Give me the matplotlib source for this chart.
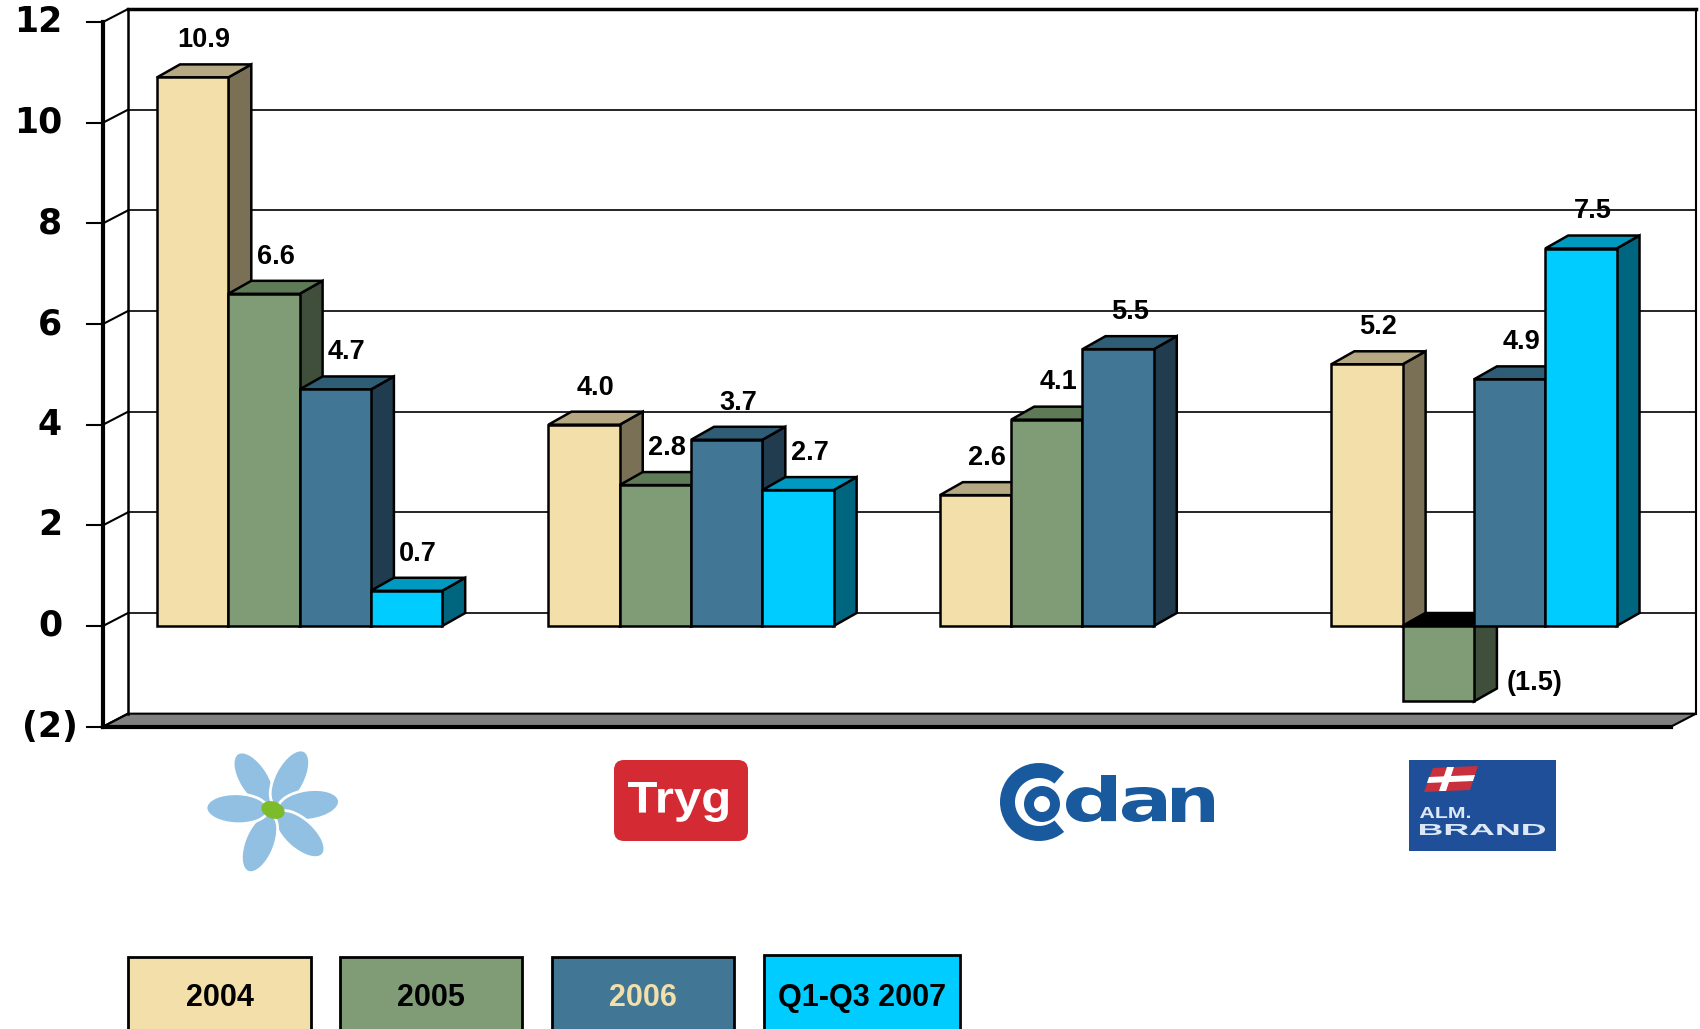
import numpy as np
import matplotlib
matplotlib.use('Agg')
import matplotlib.pyplot as plt
from matplotlib.patches import Polygon, Rectangle, Ellipse, Wedge, FancyBboxPatch, PathPatch
from matplotlib.textpath import TextPath
from matplotlib.font_manager import FontProperties
from matplotlib.transforms import Affine2D

# data
companies = ['If', 'Tryg', 'Codan', 'Alm. Brand']
series = ['2004', '2005', '2006', 'Q1-Q3 2007']
v2004 = [10.9, 4.0, 2.6, 5.2]
v2005 = [6.6, 2.8, 4.1, -1.5]
v2006 = [4.7, 3.7, 5.5, 4.9]
v2007 = [0.7, 2.7, np.nan, 7.5]
yticks = [-2, 0, 2, 4, 6, 8, 10, 12]

front_cols = ['#F2DFAA', '#7F9C76', '#417694', '#00CCFF']
top_cols = ['#B5A882', '#5F7A56', '#2F5D75', '#0099C0']
side_cols = ['#7A7055', '#404F3B', '#223C4F', '#006680']
legend_txt_cols = ['black', 'black', '#F2DFAA', 'black']

# layout (pixels of the 1700x1029 canvas)
W, H = 1700, 1029
bar_px, unit_px = 71.3, 50.33
x0_px, y0_px = 157, 626
group_step = 5.49
dx, dy = 23 / bar_px, 13 / unit_px      # bar depth
wdx, wdy = 25 / bar_px, 13 / unit_px    # wall depth
axis_x = (103 - x0_px) / bar_px
right_back = (1696 - x0_px) / bar_px
ymin, ymax = yticks[0], yticks[-1]

fig = plt.figure(figsize=(W / 100, H / 100), dpi=100)
ax = fig.add_axes([0, 0, 1, 1])
ax.set_xlim(-x0_px / bar_px, (W - x0_px) / bar_px)
ax.set_ylim((y0_px - H) / unit_px, y0_px / unit_px)
ax.axis('off')

# walls, floor and grid
floor = Polygon([(axis_x, ymin), (axis_x + wdx, ymin + wdy), (right_back, ymin + wdy),
                 (right_back - wdx, ymin)], closed=True, fc='#808080', ec='black', lw=1.5, zorder=1)
ax.add_patch(floor)
ax.plot([axis_x - wdx * 0.02, right_back - wdx], [ymin, ymin], color='black', lw=3, zorder=1.5)
ax.plot([axis_x, axis_x], [ymin, ymax], color='black', lw=3, zorder=1.5)
ax.plot([axis_x + wdx] * 2, [ymin + wdy, ymax + wdy], color='black', lw=1.8, zorder=1.5)
ax.plot([axis_x + wdx, right_back], [ymax + wdy] * 2, color='black', lw=2.5, zorder=1.5)
ax.plot([right_back] * 2, [ymin + wdy, ymax + wdy], color='black', lw=1.5, zorder=1.5)
for t in yticks:
    ax.plot([axis_x - 0.225, axis_x], [t, t], color='black', lw=1.5, zorder=1.5)
    ax.plot([axis_x, axis_x + wdx], [t, t + wdy], color='black', lw=1.5, zorder=1.5)
    if ymin < t < ymax:
        ax.plot([axis_x + wdx, right_back], [t + wdy] * 2, color='black', lw=1.2, zorder=1)
    lab = f'({abs(t)})' if t < 0 else str(t)
    lx = (62 - x0_px) / bar_px + (0.22 if t < 0 else 0)
    ax.text(lx, t, lab, ha='right', va='center', fontsize=25, fontweight='bold',
            family='DejaVu Sans', zorder=5)

# 3D bars
vals = [v2004, v2005, v2006, v2007]
z = 3
for g in range(len(companies)):
    for k in range(len(series)):
        v = vals[k][g]
        if np.isnan(v):
            continue
        x = g * group_step + k
        if v >= 0:
            side = [(x + 1, 0), (x + 1 + dx, dy), (x + 1 + dx, v + dy), (x + 1, v)]
            top = [(x, v), (x + dx, v + dy), (x + 1 + dx, v + dy), (x + 1, v)]
            tcol = top_cols[k]
        else:
            side = [(x + 1, v), (x + 1 + dx, v + dy), (x + 1 + dx, dy), (x + 1, 0)]
            top = [(x, 0), (x + dx, dy), (x + 1 + dx, dy), (x + 1, 0)]
            tcol = 'black'
        ax.add_patch(Polygon(side, closed=True, fc=side_cols[k], ec='black', lw=1.8, zorder=z))
        ax.add_patch(Polygon(top, closed=True, fc=tcol, ec='black', lw=1.8, zorder=z))
        ax.add_patch(Rectangle((x, min(0, v)), 1, abs(v), fc=front_cols[k], ec='black', lw=1.8, zorder=z))
        z += 0.01
        if v >= 0:
            ax.text(x + 0.5 + dx / 2, v + dy + 0.48, f'{v:.1f}', ha='center', va='center',
                    fontsize=19.5, fontweight='bold', family='Liberation Sans', zorder=6)
        else:
            ax.text(x + 1 + dx + 0.13, v + 0.36, f'({abs(v):.1f})', ha='left', va='center',
                    fontsize=19.5, fontweight='bold', family='Liberation Sans', zorder=6)

# overlay in pixel coordinates for logos and legend
ov = fig.add_axes([0, 0, 1, 1], zorder=3)
ov.set_xlim(0, W)
ov.set_ylim(H, 0)
ov.axis('off')
ov.patch.set_alpha(0)


def fit_text(s, x0, y0, x1, y1, color, weight='bold', family='DejaVu Sans'):
    tp = TextPath((0, 0), s, size=50, prop=FontProperties(family=family, weight=weight))
    bb = tp.get_extents()
    tr = Affine2D().translate(-bb.x0, -bb.y0).scale((x1 - x0) / bb.width, -(y1 - y0) / bb.height).translate(x0, y1)
    ov.add_patch(PathPatch(tp, transform=tr + ov.transData, fc=color, ec='none', lw=0))


# If (flower)
cx, cy = 273, 810
for ang in [122, 62, 8, -42, -112, 178]:
    a = np.deg2rad(ang)
    ov.add_patch(Ellipse((cx + 36 * np.cos(a), cy - 36 * np.sin(a)), 62, 30, angle=-ang,
                         fc='#92C0E3', ec='white', lw=2))
ov.add_patch(Ellipse((cx, cy), 24, 17, angle=20, fc='#7CBB2A', ec='none'))

# Tryg
ov.add_patch(FancyBboxPatch((614, 760), 134, 81, boxstyle='round,pad=0,rounding_size=10',
                            fc='#D42A33', ec='none'))
fit_text('Tryg', 628, 782, 728, 822, 'white', family='Liberation Sans')

# Codan
codan = '#195A9E'
ov.add_patch(Wedge((1039, 802), 39, 50, 310, width=15, fc=codan, ec='none'))
ov.add_patch(Wedge((1042, 804), 18, 0, 360, width=10, fc=codan, ec='none'))
for ch, (a0, a1) in zip('dan', [(1066, 1116), (1122, 1166), (1172, 1214)]):
    top_y = 775 if ch == 'd' else 787
    fit_text(ch, a0, top_y, a1, 822, codan)

# Alm. Brand
ov.add_patch(Rectangle((1409, 760), 147, 91, fc='#1F4F98', ec='none'))
ov.add_patch(Polygon([(1433, 768), (1478, 766), (1470, 790), (1424, 792)], closed=True, fc='#C8303E', ec='none'))
ov.add_patch(Polygon([(1429, 777), (1475, 775), (1473, 781), (1427, 783)], closed=True, fc='white', ec='none'))
ov.add_patch(Polygon([(1447, 767), (1454, 767), (1446, 791), (1439, 791)], closed=True, fc='white', ec='none'))
fit_text('ALM.', 1420, 807, 1470, 818, '#DCE8F5', family='Liberation Sans')
fit_text('BRAND', 1420, 824, 1545, 835, '#DCE8F5', family='Liberation Sans')

# legend boxes
box_left = [128, 340, 552, 764]
box_w = [183, 182, 182, 196]
box_top = [957, 957, 957, 955]
for k, name in enumerate(series):
    ov.add_patch(Rectangle((box_left[k], box_top[k]), box_w[k], 100, fc=front_cols[k], ec='black', lw=2))
    ov.text(box_left[k] + box_w[k] / 2, 998, name, ha='center', va='center', fontsize=22,
            fontweight='bold', family='Liberation Sans', color=legend_txt_cols[k])

fig.savefig('out.png', dpi=100)
